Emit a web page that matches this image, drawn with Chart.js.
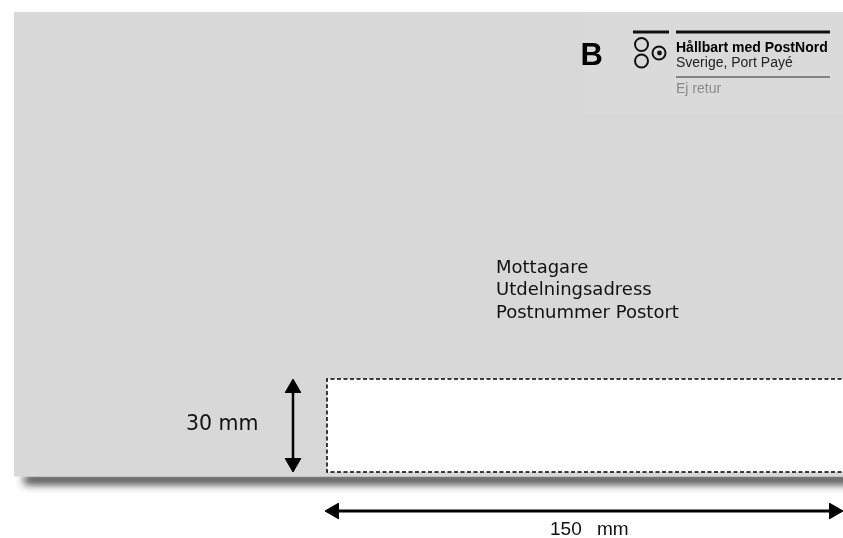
<!DOCTYPE html>
<html>
<head>
<meta charset="utf-8">
<script src="https://cdn.jsdelivr.net/npm/chart.js@4/dist/chart.umd.min.js"></script>
<style>
  html, body { margin: 0; padding: 0; background: #fff; }
  canvas { display: block; }
</style>
</head>
<body>
<canvas id="envelope" width="843" height="538"></canvas>
<script>
// texts
var addressLines = ["Mottagare", "Utdelningsadress", "Postnummer Postort"];
var dimensionLabels = ["30 mm", "150  mm"];
var stampLines = ["Hållbart med PostNord", "Sverige, Port Payé", "Ej retur"];
var portoClass = "B";

// marks, in the chart's own units (one unit = one pixel of the sketch)
var envelopeBox = [14, 12, 900, 476.5];       // x0, y0, x1, y1
var stampBox = [583, 12, 900, 115];
var zoneBox = [327, 379, 900, 472];
var zoneEdge = [{x: 900, y: 379}, {x: 327, y: 379}, {x: 327, y: 472}, {x: 900, y: 472}];
var heightShaft = [{x: 293, y: 386}, {x: 293, y: 465}];
var heightTips = [{x: 293, y: 388}, {x: 293, y: 463}];
var widthShaft = [{x: 332, y: 511}, {x: 836, y: 511}];
var widthTips = [{x: 334, y: 511}, {x: 834, y: 511}];
var logoRuleShort = [{x: 633, y: 32}, {x: 669, y: 32}];
var logoRuleLong = [{x: 676, y: 32}, {x: 830, y: 32}];
var logoRuleThin = [{x: 676, y: 77}, {x: 830, y: 77}];
var logoRings = [{x: 641.5, y: 44.5}, {x: 641.5, y: 61}, {x: 659, y: 53}];
var logoDot = [{x: 659.5, y: 53}];

function line(data, width, color, dash) {
  return {
    type: "line", data: data, borderColor: color, borderWidth: width,
    borderDash: dash || [], pointRadius: 0, fill: false, clip: false, tension: 0
  };
}

var backdrop = {
  id: "backdrop",
  beforeDatasetsDraw: function(chart) {
    var ctx = chart.ctx;
    var sx = chart.scales.x, sy = chart.scales.y;
    function rect(b, color) {
      var x0 = sx.getPixelForValue(b[0]), y0 = sy.getPixelForValue(b[1]);
      var x1 = sx.getPixelForValue(b[2]), y1 = sy.getPixelForValue(b[3]);
      ctx.fillStyle = color;
      ctx.fillRect(x0, y0, x1 - x0, y1 - y0);
    }
    ctx.save();
    // shadow under the envelope
    ctx.shadowColor = "rgba(0,0,0,0.75)";
    ctx.shadowBlur = 9;
    ctx.shadowOffsetY = 8;
    rect([24, envelopeBox[3] - 10, 900, envelopeBox[3]], "#d8d8d8");
    ctx.restore();

    rect(envelopeBox, "#d8d8d8");
    rect(stampBox, "#dadada");
    rect(zoneBox, "#ffffff");

    ctx.save();
    ctx.fillStyle = "#111";
    ctx.textBaseline = "alphabetic";
    ctx.font = "18px 'DejaVu Sans'";
    addressLines.forEach(function(t, i) {
      ctx.fillText(t, sx.getPixelForValue(496), sy.getPixelForValue(273 + i * 22.3));
    });
    ctx.font = "20.5px 'DejaVu Sans'";
    ctx.fillText(dimensionLabels[0], sx.getPixelForValue(186), sy.getPixelForValue(430));
    ctx.font = "19px 'Liberation Sans'";
    var w = dimensionLabels[1].split(/\s+/);
    ctx.fillText(w[0], sx.getPixelForValue(550), sy.getPixelForValue(535));
    ctx.fillText(w[1], sx.getPixelForValue(597), sy.getPixelForValue(535));

    ctx.fillStyle = "#000";
    ctx.font = "bold 31px 'Liberation Sans'";
    ctx.fillText(portoClass, sx.getPixelForValue(580.5), sy.getPixelForValue(65));
    ctx.font = "bold 14px 'Liberation Sans'";
    ctx.fillText(stampLines[0], sx.getPixelForValue(676), sy.getPixelForValue(52));
    ctx.fillStyle = "#222";
    ctx.font = "14px 'Liberation Sans'";
    ctx.fillText(stampLines[1], sx.getPixelForValue(676), sy.getPixelForValue(67));
    ctx.fillStyle = "#8a8a8a";
    ctx.fillText(stampLines[2], sx.getPixelForValue(676), sy.getPixelForValue(92.5));
    ctx.restore();
  }
};

var chart = new Chart(document.getElementById("envelope"), {
  type: "scatter",
  data: {
    datasets: [
      line(zoneEdge, 1.5, "#000", [4, 2.5]),
      line(heightShaft, 2.5, "#000"),
      line(widthShaft, 3, "#000"),
      line(logoRuleShort, 3, "#111"),
      line(logoRuleLong, 3, "#111"),
      line(logoRuleThin, 1.5, "#666"),
      {
        data: heightTips, pointStyle: "triangle", pointRadius: 9,
        rotation: [0, 180], backgroundColor: "#000", borderColor: "#000", borderWidth: 1, clip: false
      },
      {
        data: widthTips, pointStyle: "triangle", pointRadius: 9,
        rotation: [270, 90], backgroundColor: "#000", borderColor: "#000", borderWidth: 1, clip: false
      },
      {
        data: logoRings, pointStyle: "circle", pointRadius: 6.5,
        backgroundColor: "rgba(0,0,0,0)", borderColor: "#111", borderWidth: 2, clip: false
      },
      {
        data: logoDot, pointStyle: "circle", pointRadius: 2.4,
        backgroundColor: "#111", borderColor: "#111", borderWidth: 0, clip: false
      }
    ]
  },
  options: {
    responsive: false,
    animation: false,
    devicePixelRatio: 1,
    layout: { padding: 0, autoPadding: false },
    plugins: { legend: { display: false }, tooltip: { enabled: false } },
    scales: {
      x: { type: "linear", min: 0, max: 843, display: false },
      y: { type: "linear", min: 0, max: 538, reverse: true, display: false }
    }
  },
  plugins: [backdrop]
});
</script>
</body>
</html>
